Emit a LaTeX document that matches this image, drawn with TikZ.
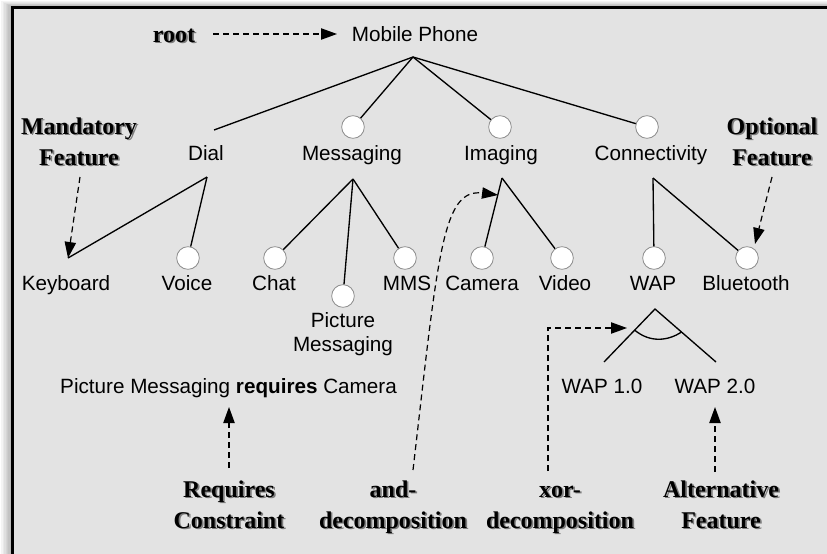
\documentclass[tikz,border=0pt]{standalone}
\usepackage{fontspec}
\setmainfont{Liberation Sans}
\newfontfamily\labelserif{Liberation Serif}
\usetikzlibrary{arrows.meta}
\definecolor{panel}{RGB}{227,227,227}
\definecolor{ringgray}{RGB}{140,140,140}
\definecolor{shadegray}{RGB}{125,125,125}
% bold caption with a soft grey drop shade
\newcommand\dropshade[1]{\leavevmode\rlap{\kern1.3pt\raisebox{-1.3pt}{\textcolor{shadegray}{#1}}}#1}
\begin{document}
\begin{tikzpicture}[x=0.75pt,y=-0.75pt,
  feat/.style={font=\fontsize{15.5}{18}\selectfont, anchor=base, inner sep=0pt, align=center},
  note/.style={font=\labelserif\bfseries\fontsize{18}{23.25}\selectfont, anchor=base, align=center, inner sep=0pt},
  opt/.style={circle, draw=ringgray, line width=0.6pt, fill=white, minimum size=17pt, inner sep=0pt},
  link/.style={line width=1pt},
  hint/.style={line width=0.9pt, dash pattern=on 4.5pt off 3pt, -{Triangle[length=12pt,width=8.5pt]}}
]
\useasboundingbox (0,0) rectangle (827,553);
\clip (0,0) rectangle (827,553);

% panel with soft shadow and heavy border
\foreach \i in {1,...,8}
  \fill[black, opacity=0.045] (12.5-\i*1.4, 7.5-\i*0.8) rectangle (840,566);
\fill[panel] (12.5,7.5) rectangle (840,566);
\draw[line width=1.9pt] (12.5,7.5) rectangle (840,566);

% ---- features (base anchor = baseline of the last line) ----
\node[feat] (mobile) at (415,41) {Mobile Phone};
\coordinate (mpJ) at (413,57);

\node[feat] (dial) at (206,160) {Dial};
\coordinate (dialTop) at (214,130);
\coordinate (dialJ) at (207,177);

\node[opt] (oMsg) at (353,127) {};
\node[feat] (msg) at (352,160) {Messaging};
\coordinate (msgJ) at (353,179);

\node[opt] (oImg) at (500,127) {};
\node[feat] (img) at (501,160) {Imaging};
\coordinate (imgJ) at (502,178);

\node[opt] (oCon) at (647,127) {};
\node[feat] (con) at (651,160) {Connectivity};
\coordinate (conJ) at (653,178);

\coordinate (kbTop) at (68,258);
\node[feat] (kb) at (66,290) {Keyboard};
\node[opt] (oVoice) at (188,258) {};
\node[feat] (voice) at (187,290) {Voice};

\node[opt] (oChat) at (275,258) {};
\node[feat] (chat) at (274,290) {Chat};
\node[opt] (oPm) at (343,296) {};
\node[feat] (pm) at (343,351) {Picture\\Messaging};
\node[opt] (oMms) at (405,258) {};
\node[feat] (mms) at (407,290) {MMS};

\node[opt] (oCam) at (482,258) {};
\node[feat] (cam) at (482,290) {Camera};
\node[opt] (oVid) at (562,258) {};
\node[feat] (vid) at (565,290) {Video};

\node[opt] (oWap) at (654,258) {};
\node[feat] (wap) at (653,290) {WAP};
\node[opt] (oBt) at (747,258) {};
\node[feat] (bt) at (746,290) {Bluetooth};

\coordinate (xorJ) at (655,309);
\coordinate (wap1Top) at (604,362);
\coordinate (wap2Top) at (716,362);
\node[feat] (wap1) at (602,393) {WAP 1.0};
\node[feat] (wap2) at (715,393) {WAP 2.0};

\node[feat] (rule) at (228.5,393) {Picture Messaging \textbf{requires} Camera};

% ---- tree edges ----
\draw[link] (mpJ) -- (dialTop);
\draw[link] (mpJ) -- (oMsg);
\draw[link] (mpJ) -- (oImg);
\draw[link] (mpJ) -- (oCon);

\draw[link] (dialJ) -- (kbTop);
\draw[link] (dialJ) -- (oVoice);

\draw[link] (msgJ) -- (oChat);
\draw[link] (msgJ) -- (oPm);
\draw[link] (msgJ) -- (oMms);

\draw[link] (imgJ) -- (oCam);
\draw[link] (imgJ) -- (oVid);

\draw[link] (conJ) -- (oWap);
\draw[link] (conJ) -- (oBt);

\draw[link] (wap1Top) -- (xorJ) -- (wap2Top);
\coordinate (arcL) at (634.5,330);
\coordinate (arcR) at (681.5,332);
\draw[link] (arcL) .. controls (650,343) and (668,341) .. (arcR);

% ---- annotations ----
\node[note] (rootLbl) at (174,42) {\dropshade{root}};
\node[note] (mandLbl) at (79,165) {\dropshade{Mandatory}\\\dropshade{Feature}};
\node[note] (optLbl) at (772,165) {\dropshade{Optional}\\\dropshade{Feature}};
\node[note] (reqLbl) at (229,528) {\dropshade{Requires}\\\dropshade{Constraint}};
\node[note] (andLbl) at (393,528) {\dropshade{and-}\\\dropshade{decomposition}};
\node[note] (xorLbl) at (560,528) {\dropshade{xor-}\\\dropshade{decomposition}};
\node[note] (altLbl) at (721,528) {\dropshade{Alternative}\\\dropshade{Feature}};

\coordinate (rootTail) at (213,34);
\coordinate (rootTip) at (337,34);
\draw[hint] (rootTail) -- (rootTip);

\coordinate (mandTail) at (80,177);
\draw[hint] (mandTail) -- (kbTop);

\coordinate (optTail) at (772,177);
\coordinate (optTip) at (755,244);
\draw[hint] (optTail) -- (optTip);

\coordinate (reqTail) at (229,468);
\coordinate (reqTip) at (229,407);
\draw[hint] (reqTail) -- (reqTip);

\coordinate (andTail) at (413,470);
\coordinate (andTip) at (498,195);
\draw[hint] (andTail) .. controls (438,255) and (442,188) .. (andTip);

\coordinate (xorTail) at (548,471);
\coordinate (xorBend) at (548,328);
\coordinate (xorTip) at (627,328);
\draw[hint] (xorTail) -- (xorBend) -- (xorTip);

\coordinate (altTail) at (715,472);
\coordinate (altTip) at (715,407);
\draw[hint] (altTail) -- (altTip);
\end{tikzpicture}
\end{document}
